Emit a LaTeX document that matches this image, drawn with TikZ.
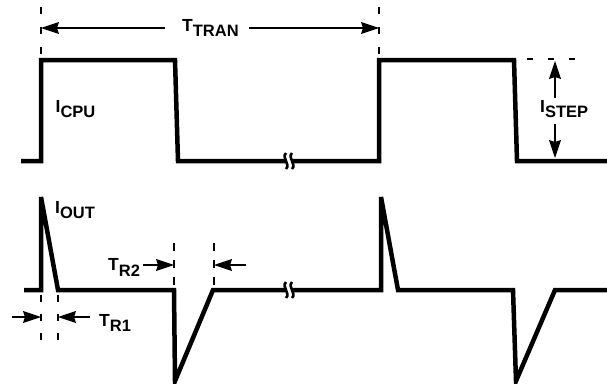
\documentclass[tikz,border=0pt]{standalone}
\usepackage{fontspec}
\setmainfont{Liberation Sans}
\usetikzlibrary{arrows.meta,positioning,calc}
\newcommand{\sig}[2]{#1\raisebox{-5.5pt}{\fontsize{16.5}{16.5}\selectfont #2}}
\tikzset{
    wave/.style={line width=4.5pt, line join=miter},
    guide/.style={line width=1.3pt, dash pattern=on 7pt off 13pt},
    dim/.style={line width=1.1pt, -{Stealth[length=18pt, width=12pt, inset=2pt]}},
    lbl/.style={inner sep=0pt, anchor=base west, font=\fontsize{17.5}{17.5}\selectfont\bfseries},
    brk/.style={line width=2.6pt},
}
\begin{document}
\begin{tikzpicture}[x=1pt, y=-1pt]
    \useasboundingbox (0,0) rectangle (607,383);

    % CPU current
    \draw[wave] (21,161) -- (41,161) -- (41,60) -- (175,60) -- (178,161) -- (285,161);
    \draw[wave] (293,161) -- (379,161) -- (379,60) -- (514,60) -- (517,161) -- (607,161);

    % output current
    \draw[wave] (24,290) -- (41,290) -- (41,197) -- (58,290) -- (174,290) -- (175,381) -- (213,290) -- (285,290);
    \draw[wave] (293,290) -- (381,290) -- (381,197) -- (398,290) -- (513,290) -- (516,381) -- (555,290) -- (607,290);

    % breaks
    \foreach \y in {161,290}
        \foreach \x in {286,292}
            \draw[brk] (\x,\y-8) .. controls (\x-5,\y-3) and (\x+5,\y+3) .. (\x,\y+8);

    % transient period
    \draw[guide] (41,7) -- (41,54);
    \draw[guide] (379,7) -- (379,54);
    \coordinate (ta) at (41,28);
    \coordinate (tb) at (379,28);
    \node[lbl] (ttran) at (182,31) {\sig{T}{TRAN}};
    \draw[dim] ([xshift=-17pt]ttran.west |- ta) -- (ta);
    \draw[dim] ([xshift=10pt]ttran.east |- tb) -- (tb);

    \node[lbl] (icpu) at (55.5,112) {\sig{I}{CPU}};

    % step size
    \draw[guide, dash pattern=on 6pt off 15pt] (527,59) -- (578,59);
    \coordinate (st) at (555,61);
    \coordinate (sb) at (555,158);
    \node[lbl] (istep) at (540,112) {\sig{I}{STEP}};
    \draw[dim] ([yshift=2pt]istep.north -| st) -- (st);
    \draw[dim] ([yshift=-6pt]istep.south -| sb) -- (sb);

    \node[lbl] (iout) at (55,213) {\sig{I}{OUT}};

    % rise time 1
    \foreach \x in {41,58} \draw[guide, dash pattern=on 7pt off 12pt] (\x,295) -- (\x,340);
    \coordinate (r1a) at (41,317);
    \coordinate (r1b) at (58,317);
    \coordinate (r1l) at (12,317);
    \node[lbl] (tr1) at (99,326) {\sig{T}{R1}};
    \draw[dim] (r1l) -- (r1a);
    \draw[dim] ([xshift=-9pt]tr1.west |- r1b) -- (r1b);

    % rise time 2
    \foreach \x in {174,214} \draw[guide, dash pattern=on 8pt off 9pt] (\x,243) -- (\x,286);
    \coordinate (r2a) at (174,265);
    \coordinate (r2b) at (214,265);
    \coordinate (r2r) at (246,265);
    \node[lbl] (tr2) at (108,270.5) {\sig{T}{R2}};
    \draw[dim] ([xshift=3pt]tr2.east |- r2a) -- (r2a);
    \draw[dim] (r2r) -- (r2b);
\end{tikzpicture}
\end{document}
